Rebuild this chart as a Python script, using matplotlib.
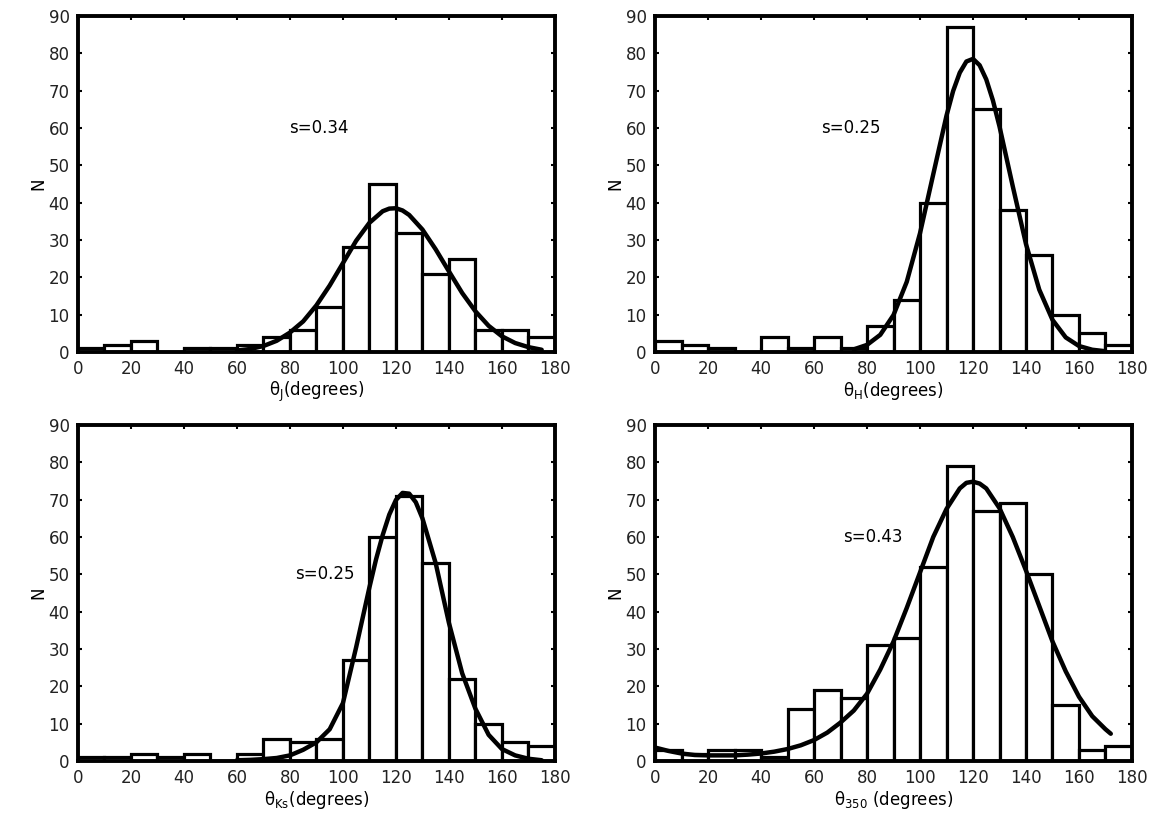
import matplotlib.pyplot as plt

# histogram bins (left edges, 10 degree wide)
bin_starts = list(range(0, 180, 10))

counts_J = [1, 2, 3, 0, 1, 1, 2, 4, 6, 12, 28, 45, 32, 21, 25, 6, 6, 4]
counts_H = [3, 2, 1, 0, 4, 1, 4, 1, 7, 14, 40, 87, 65, 38, 26, 10, 5, 2]
counts_Ks = [1, 1, 2, 1, 2, 0, 2, 6, 5, 6, 27, 60, 71, 53, 22, 10, 5, 4]
counts_350 = [3, 2, 3, 3, 1, 14, 19, 17, 31, 33, 52, 79, 67, 69, 50, 15, 3, 4]

# fitted curves
curve_x_J = [60, 65, 70, 75, 80, 85, 90, 95, 100, 105, 110, 115, 117.5, 120, 122.5,
             125, 130, 135, 140, 145, 150, 155, 160, 165, 170, 175]
curve_y_J = [0.4, 0.8, 1.6, 3.0, 5.2, 8.2, 12.5, 17.8, 23.8, 29.8, 34.6, 37.7, 38.4, 38.5, 37.9,
             36.7, 32.8, 27.5, 21.6, 15.8, 10.9, 7.0, 4.2, 2.4, 1.3, 0.6]

curve_x_H = [75, 80, 85, 90, 95, 100, 105, 110, 112.5, 115, 117.5, 120, 122.5, 125, 127.5,
             130, 135, 140, 145, 150, 155, 160, 165, 170]
curve_y_H = [0.7, 1.9, 4.6, 9.9, 18.8, 31.8, 47.6, 63.3, 69.9, 74.8, 77.8, 78.5, 76.8, 73.0, 67.4,
             60.4, 44.4, 28.9, 16.7, 8.6, 3.9, 1.6, 0.6, 0.2]

curve_x_Ks = [60, 65, 70, 75, 80, 85, 90, 95, 100, 105, 110, 112.5, 115, 117.5, 120, 122.5,
              125, 127.5, 130, 132.5, 135, 140, 145, 150, 155, 160, 165, 170, 175]
curve_y_Ks = [0.2, 0.3, 0.5, 0.8, 1.5, 3.0, 5.0, 8.5, 15.5, 30.5, 46.5, 54.0, 60.5, 66.0, 69.9, 71.8,
              71.6, 69.3, 65.0, 59.0, 53.0, 37.0, 23.5, 14.0, 7.0, 3.2, 1.5, 0.6, 0.2]

curve_x_350 = [0, 5, 10, 15, 20, 25, 30, 35, 40, 45, 50, 55, 60, 65, 70, 75, 80, 85, 90, 95,
               100, 105, 110, 115, 117.5, 120, 122.5, 125, 130, 135, 140, 145, 150, 155, 160,
               165, 170, 172]
curve_y_350 = [3.6, 2.7, 2.0, 1.6, 1.5, 1.5, 1.5, 1.7, 2.0, 2.5, 3.2, 4.2, 5.6, 7.6, 10.3, 13.5,
               18.0, 24.5, 32.0, 41.0, 50.5, 60.0, 67.5, 73.0, 74.5, 74.8, 74.3, 73.0, 67.7, 60.0,
               51.0, 41.5, 32.0, 24.0, 17.2, 12.0, 8.5, 7.3]

s_labels = ['s=0.34', 's=0.25', 's=0.25', 's=0.43']
xlabels = [r'$\mathregular{\theta_J}$(degrees)', r'$\mathregular{\theta_H}$(degrees)',
           r'$\mathregular{\theta_{Ks}}$(degrees)', r'$\mathregular{\theta_{350}}$ (degrees)']
xticks = [0, 20, 40, 60, 80, 100, 120, 140, 160, 180]
yticks = [0, 10, 20, 30, 40, 50, 60, 70, 80, 90]

panels = [
    (counts_J, curve_x_J, curve_y_J),
    (counts_H, curve_x_H, curve_y_H),
    (counts_Ks, curve_x_Ks, curve_y_Ks),
    (counts_350, curve_x_350, curve_y_350),
]

# layout (figure fractions) and label spots
boxes = [[0.0668, 0.5697, 0.4087, 0.4108], [0.5613, 0.5697, 0.4087, 0.4108],
         [0.0668, 0.0697, 0.4087, 0.4108], [0.5613, 0.0697, 0.4087, 0.4108]]
note_pos = [(91, 60), (74, 60), (93, 50), (82, 60)]

fig = plt.figure(figsize=(11.67, 8.18), dpi=100)

for i in range(4):
    counts, cx, cy = panels[i]
    ax = fig.add_axes(boxes[i])
    ax.bar(bin_starts, counts, width=10, align='edge', color='white',
           edgecolor='black', linewidth=2.3, zorder=2)
    ax.plot(cx, cy, color='black', linewidth=3.2, zorder=3, solid_capstyle='round')
    ax.text(note_pos[i][0], note_pos[i][1], s_labels[i], ha='center', va='center', fontsize=12)
    ax.set_xlim(0, 180)
    ax.set_ylim(0, 90)
    ax.set_xticks(xticks)
    ax.set_yticks(yticks)
    ax.tick_params(direction='in', length=3, width=1.5, top=True, right=True,
                   labelsize=12, pad=6, labelcolor='#222222')
    for sp in ax.spines.values():
        sp.set_linewidth(2.8)
        sp.set_zorder(4)
    ax.set_xlabel(xlabels[i], fontsize=12, labelpad=1)
    ax.set_ylabel('N', fontsize=12, labelpad=1)

fig.savefig('out.png', dpi=100, facecolor='white')
